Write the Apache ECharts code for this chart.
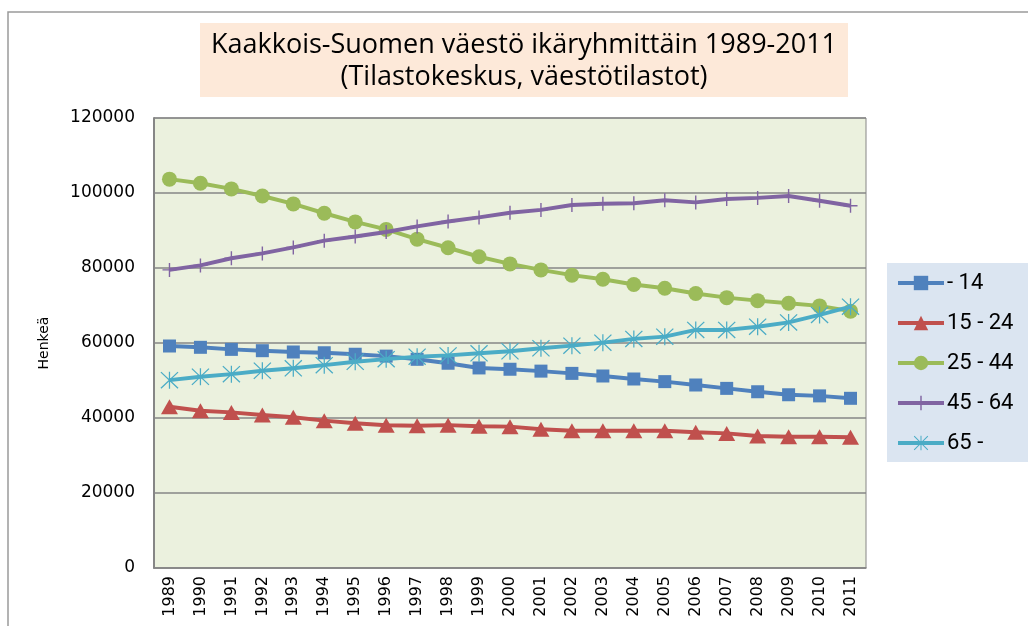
<!DOCTYPE html>
<html>
<head>
<meta charset="utf-8">
<script src="https://cdn.jsdelivr.net/npm/echarts@6/dist/echarts.min.js"></script>
<style>
  html, body { margin: 0; padding: 0; background: #fff; }
  #myChart { width: 1028px; height: 626px; }
</style>
</head>
<body>
<div id="myChart"></div>
<script>
// vuodet
const years = ['1989', '1990', '1991', '1992', '1993', '1994', '1995', '1996', '1997', '1998', '1999', '2000',
  '2001', '2002', '2003', '2004', '2005', '2006', '2007', '2008', '2009', '2010', '2011'];
const seriesNames = ['- 14', '15 - 24', '25 - 44', '45 - 64', '65 -'];
// ikäryhmät, luettu kuvasta
const age0_14 = [59200, 58850, 58300, 57950, 57600, 57400, 57000, 56500, 55650, 54600, 53350, 53000,
  52500, 51900, 51200, 50400, 49700, 48800, 47900, 47000, 46200, 45900, 45250];
const age15_24 = [43000, 41950, 41500, 40800, 40200, 39300, 38600, 38050, 37950, 38100, 37800, 37700,
  37000, 36600, 36600, 36600, 36600, 36200, 35900, 35200, 35000, 35000, 34850];
const age25_44 = [103700, 102600, 101100, 99200, 97100, 94600, 92300, 90300, 87700, 85400, 83000, 81100,
  79500, 78100, 77000, 75600, 74600, 73200, 72100, 71300, 70600, 69900, 68500];
const age45_64 = [79500, 80700, 82600, 83900, 85500, 87300, 88400, 89600, 91100, 92400, 93500, 94750,
  95500, 96800, 97150, 97250, 98050, 97500, 98400, 98700, 99200, 97950, 96600];
const age65 = [50100, 51000, 51700, 52600, 53250, 54100, 55000, 55700, 56350, 56700, 57250, 57800,
  58600, 59300, 60100, 61100, 61700, 63500, 63500, 64350, 65500, 67500, 69700];
const yTicks = [0, 20000, 40000, 60000, 80000, 100000, 120000];

const colors = ['#4f81bd', '#c0504d', '#9bbb59', '#8064a2', '#4bacc6'];
const plusPath = 'path://M9,0h2v20h-2z M0,9h20v2h-20z';
const starPath = 'path://M9.3,0h1.4v20h-1.4z M0,1L1,0L20,19L19,20z M19,0L20,1L1,20L0,19z';

let myChart = echarts.init(document.getElementById('myChart'));

function makeSeries(name, data, idx, symbol, size) {
  return {
    name: name,
    type: 'line',
    data: data,
    symbol: symbol,
    symbolSize: size,
    showAllSymbol: true,
    lineStyle: { width: 4, color: colors[idx] },
    itemStyle: { color: colors[idx] },
    emphasis: { disabled: true },
    z: 2 + idx
  };
}

myChart.setOption({
  animation: false,
  backgroundColor: '#fff',
  color: colors,
  graphic: [
    {
      type: 'rect',
      shape: { x: 8, y: 12, width: 1100, height: 700 },
      style: { fill: 'none', stroke: '#9a9a9a', lineWidth: 1.5 },
      z: -10
    },
    {
      type: 'rect',
      shape: { x: 200, y: 23, width: 648, height: 74 },
      style: { fill: '#fde9d9' },
      z: -5
    },
    {
      type: 'text',
      x: 524, y: 45,
      style: {
        text: 'Kaakkois-Suomen väestö ikäryhmittäin 1989-2011',
        font: '27px "Open Sans"', fill: '#000',
        align: 'center', verticalAlign: 'middle'
      }
    },
    {
      type: 'text',
      x: 524, y: 77,
      style: {
        text: '(Tilastokeskus, väestötilastot)',
        font: '27px "Open Sans"', fill: '#000',
        align: 'center', verticalAlign: 'middle'
      }
    }
  ],
  legend: {
    data: seriesNames,
    orient: 'vertical',
    left: 887,
    top: 263,
    padding: [9, 60, 8, 9],
    backgroundColor: '#dbe5f1',
    itemWidth: 46,
    itemHeight: 18,
    itemGap: 18,
    lineStyle: { width: 4 },
    textStyle: { fontFamily: 'Roboto', fontSize: 22, color: '#000', padding: [0, 0, 0, -2], lineHeight: 22 }
  },
  grid: {
    left: 154,
    right: 162,
    top: 118,
    bottom: 58,
    show: true,
    backgroundColor: '#ebf1de',
    borderColor: '#868686',
    borderWidth: 1
  },
  xAxis: {
    type: 'category',
    data: years,
    boundaryGap: true,
    axisLine: { show: true, lineStyle: { color: '#868686', width: 1.5 } },
    axisTick: { show: false },
    axisLabel: {
      rotate: 90,
      margin: 8,
      color: '#000',
      fontFamily: 'DejaVu Sans',
      fontSize: 16,
      interval: 0
    }
  },
  yAxis: {
    type: 'value',
    min: yTicks[0],
    max: yTicks[yTicks.length - 1],
    interval: 20000,
    name: 'Henkeä',
    nameLocation: 'middle',
    nameGap: 103,
    nameMoveOverlap: false,
    nameTextStyle: { fontFamily: 'DejaVu Sans', fontSize: 14, color: '#000' },
    axisLine: { show: true, lineStyle: { color: '#868686', width: 2 } },
    axisTick: { show: false },
    axisLabel: {
      margin: 19, color: '#000', fontFamily: 'DejaVu Sans', fontSize: 17,
      formatter: function (v) { return String(v); }
    },
    splitLine: { show: true, lineStyle: { color: '#868686', width: 1.5 } }
  },
  series: [
    makeSeries(seriesNames[0], age0_14, 0, 'rect', 13),
    makeSeries(seriesNames[1], age15_24, 1, 'triangle', [17, 15]),
    makeSeries(seriesNames[2], age25_44, 2, 'circle', 15),
    makeSeries(seriesNames[3], age45_64, 3, plusPath, 14),
    makeSeries(seriesNames[4], age65, 4, starPath, [18, 17])
  ]
});
</script>
</body>
</html>
